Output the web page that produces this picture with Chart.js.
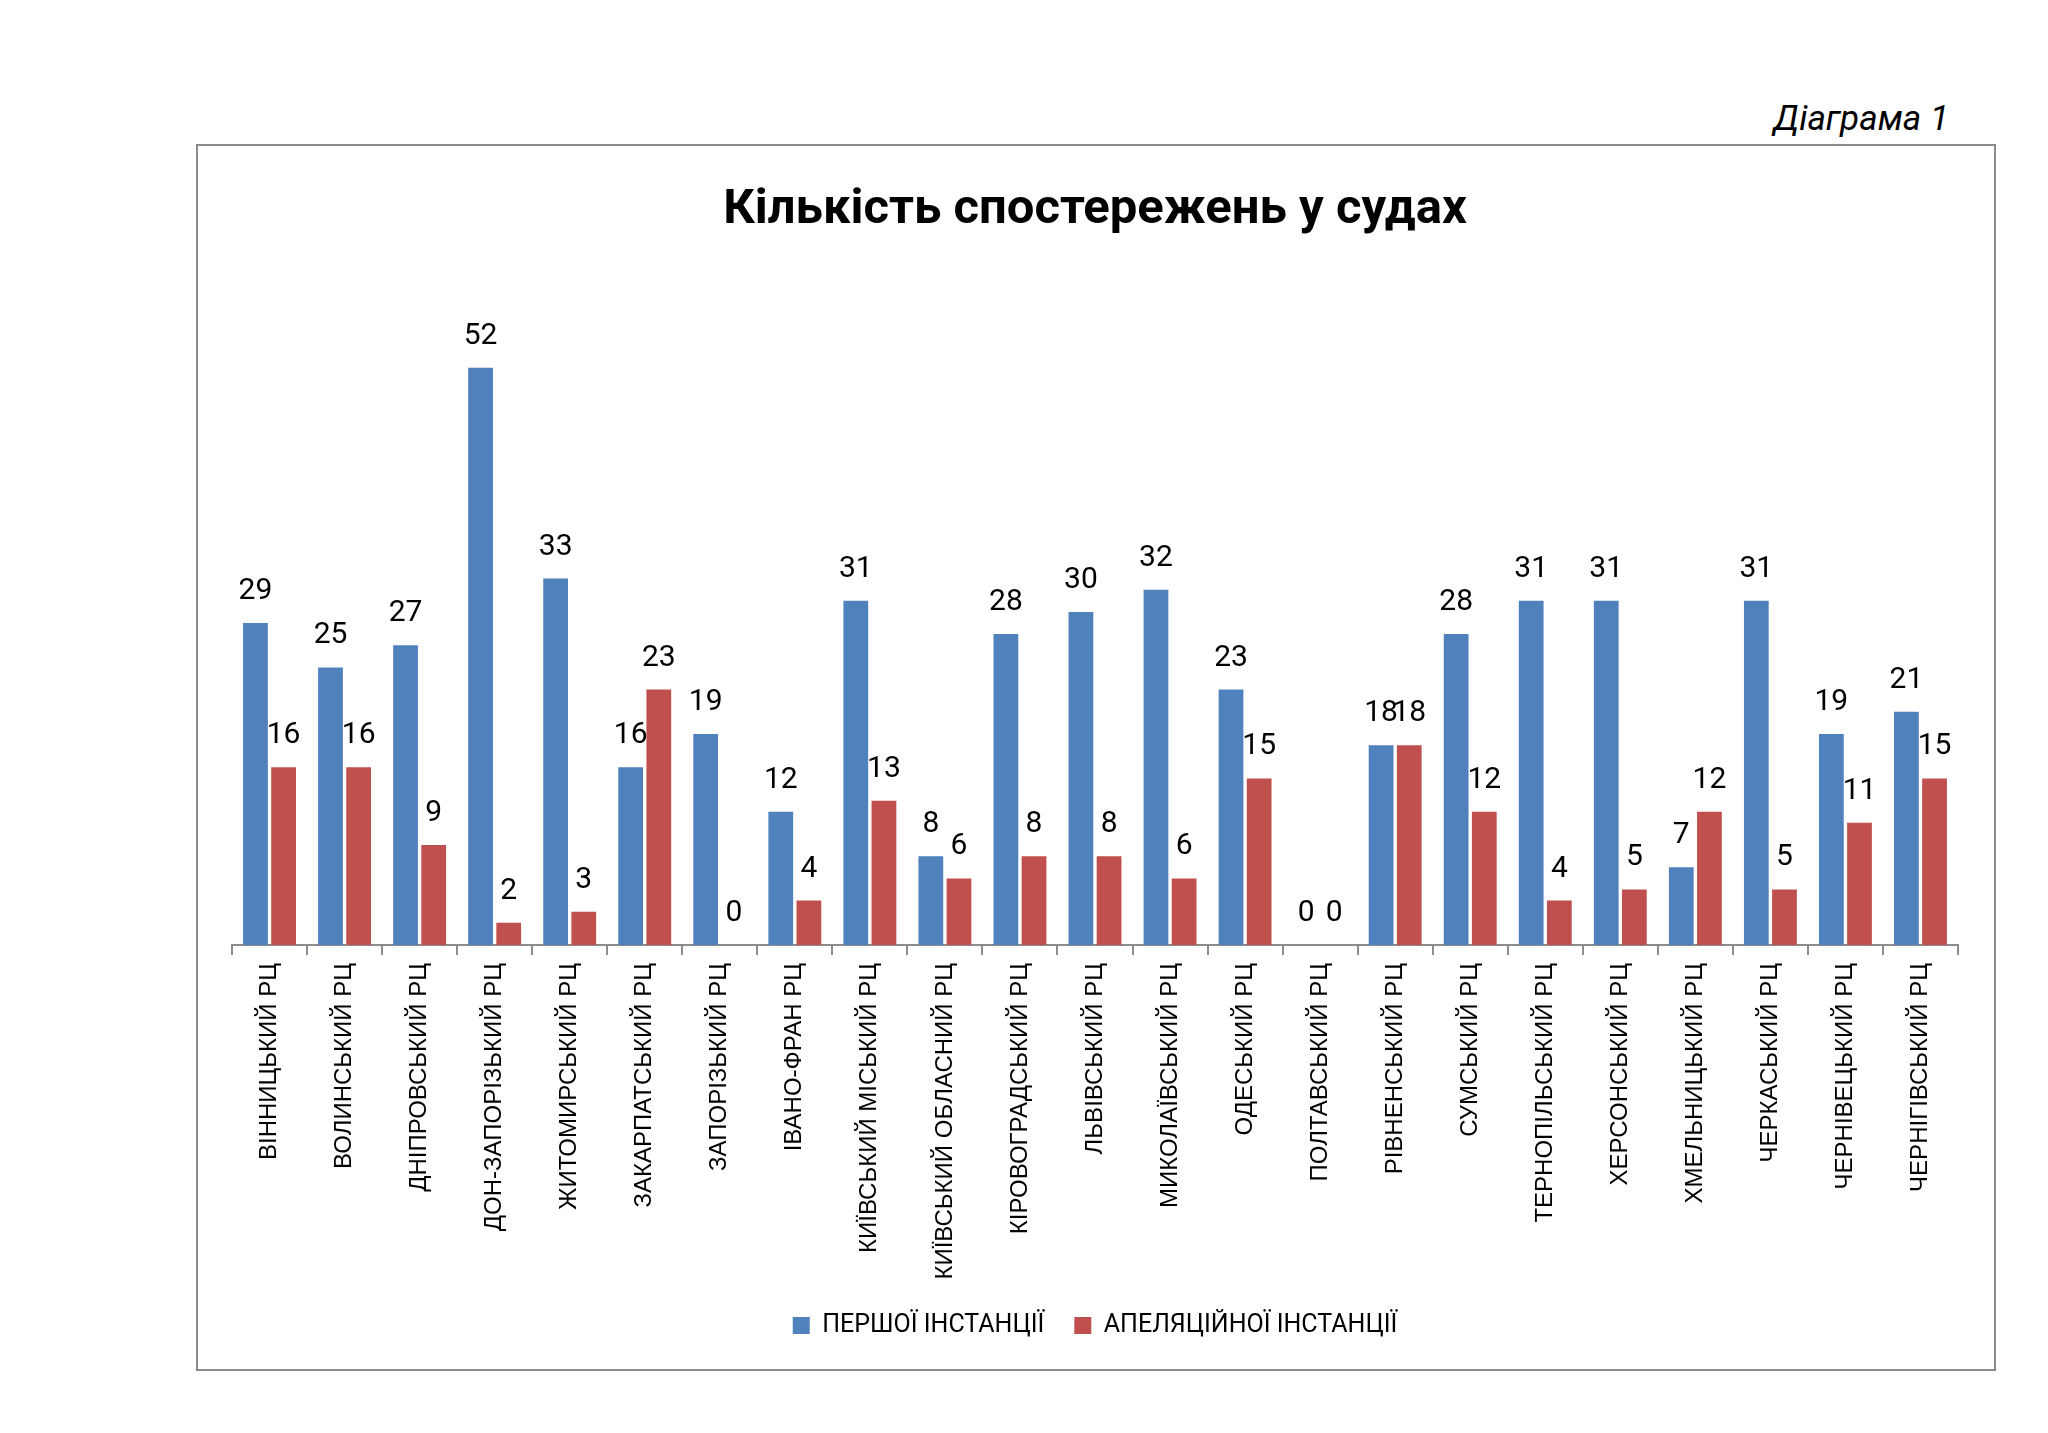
<!DOCTYPE html>
<html>
<head>
<meta charset="utf-8">
<script src="https://cdn.jsdelivr.net/npm/chart.js@4.4.1/dist/chart.umd.min.js"></script>
<style>
  html, body { margin: 0; padding: 0; background: #fff; }
  body { width: 2048px; height: 1433px; position: relative; overflow: hidden; }
  #caption {
    position: absolute; right: 99px; top: 98px;
    font-family: Roboto, sans-serif; font-style: italic; font-size: 35px; color: #000;
  }
  #box {
    position: absolute; left: 196px; top: 144px; width: 1800px; height: 1227px;
    border: 2px solid #8c8c8c; box-sizing: border-box;
  }
</style>
</head>
<body>
<div id="caption">Діаграма 1</div>
<div id="box"><canvas id="grafico"></canvas></div>
<script>
const categorias = [
  "ВІННИЦЬКИЙ РЦ", "ВОЛИНСЬКИЙ РЦ", "ДНІПРОВСЬКИЙ РЦ", "ДОН-ЗАПОРІЗЬКИЙ РЦ",
  "ЖИТОМИРСЬКИЙ РЦ", "ЗАКАРПАТСЬКИЙ РЦ", "ЗАПОРІЗЬКИЙ РЦ", "ІВАНО-ФРАН РЦ",
  "КИЇВСЬКИЙ МІСЬКИЙ РЦ", "КИЇВСЬКИЙ ОБЛАСНИЙ РЦ", "КІРОВОГРАДСЬКИЙ РЦ",
  "ЛЬВІВСЬКИЙ РЦ", "МИКОЛАЇВСЬКИЙ РЦ", "ОДЕСЬКИЙ РЦ", "ПОЛТАВСЬКИЙ РЦ",
  "РІВНЕНСЬКИЙ РЦ", "СУМСЬКИЙ РЦ", "ТЕРНОПІЛЬСЬКИЙ РЦ", "ХЕРСОНСЬКИЙ РЦ",
  "ХМЕЛЬНИЦЬКИЙ РЦ", "ЧЕРКАСЬКИЙ РЦ", "ЧЕРНІВЕЦЬКИЙ РЦ", "ЧЕРНІГІВСЬКИЙ РЦ"
];
const pershoi = [29, 25, 27, 52, 33, 16, 19, 12, 31, 8, 28, 30, 32, 23, 0, 18, 28, 31, 31, 7, 31, 19, 21];
const apeliatsiinoi = [16, 16, 9, 2, 3, 23, 0, 4, 13, 6, 8, 8, 6, 15, 0, 18, 12, 4, 5, 12, 5, 11, 15];
const nazvySerii = ["ПЕРШОЇ ІНСТАНЦІЇ", "АПЕЛЯЦІЙНОЇ ІНСТАНЦІЇ"];

// --- etiquetas de valor encima de las barras ---
const valoresPlugin = {
  id: "valores",
  afterDatasetsDraw(chart) {
    const ctx = chart.ctx;
    ctx.save();
    ctx.font = "30px Roboto";
    ctx.fillStyle = "#000";
    ctx.textAlign = "center";
    ctx.textBaseline = "alphabetic";
    chart.data.datasets.forEach((ds, i) => {
      chart.getDatasetMeta(i).data.forEach((bar, j) => {
        ctx.fillText(String(ds.data[j]), bar.x, bar.y - 24);
      });
    });
    ctx.restore();
  },
};

const ctx = document.getElementById("grafico").getContext("2d");
new Chart(ctx, {
  type: "bar",
  data: {
    labels: categorias,
    datasets: [
      { label: nazvySerii[0], data: pershoi, backgroundColor: "#4F81BD" },
      { label: nazvySerii[1], data: apeliatsiinoi, backgroundColor: "#C0504D" },
    ],
  },
  options: {
    responsive: true,
    maintainAspectRatio: false,
    animation: false,
    categoryPercentage: 0.75,
    barPercentage: 0.88,
    layout: { padding: { left: 34, right: 36, top: 0, bottom: 21 } },
    plugins: {
      title: {
        display: true,
        text: "Кількість спостережень у судах",
        color: "#000",
        font: { family: "Roboto", size: 49, weight: "bold" },
        padding: { top: 35, bottom: 39 },
      },
      legend: {
        position: "bottom",
        labels: {
          color: "#000",
          font: { family: "Roboto", size: 25 },
          boxWidth: 17,
          boxHeight: 17,
          padding: 30,
        },
      },
      tooltip: { enabled: false },
    },
    scales: {
      x: {
        grid: { drawOnChartArea: false, color: "#8c8c8c", tickLength: 10, lineWidth: 2 },
        border: { color: "#8c8c8c", width: 2 },
        ticks: {
          color: "#000",
          font: { family: "Liberation Sans", size: 24 },
          minRotation: 90,
          maxRotation: 90,
          padding: 8,
        },
        afterFit(scale) { scale.height = 338; },
      },
      y: { display: false, min: 0, max: 60 },
    },
  },
  plugins: [valoresPlugin],
});
</script>
</body>
</html>
